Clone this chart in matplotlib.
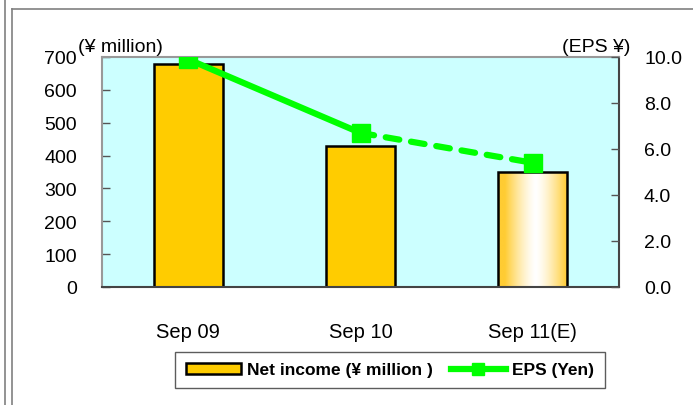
import numpy as np
import matplotlib
matplotlib.use("Agg")
import matplotlib.pyplot as plt
from matplotlib.lines import Line2D
from matplotlib.patches import Patch

plt.rcParams["font.family"] = ["Liberation Sans", "DejaVu Sans"]

periods = ["Sep 09", "Sep 10", "Sep 11(E)"]
net_income = [680, 430, 350]
eps = [9.9, 6.7, 5.4]
left_ticks = [0, 100, 200, 300, 400, 500, 600, 700]
right_ticks = [0.0, 2.0, 4.0, 6.0, 8.0, 10.0]

W, H = 693, 406
fig = plt.figure(figsize=(W / 100, H / 100), dpi=100)


def px(x0, y0, x1, y1):
    # pixel box (top-left origin) -> figure fraction rect
    return [x0 / W, 1 - y1 / H, (x1 - x0) / W, (y1 - y0) / H]


# outer frame lines
frame_kw = dict(color="#808080", linewidth=1.2, transform=fig.transFigure)
fig.add_artist(Line2D([5 / W, 5 / W], [0, 1], **frame_kw))
fig.add_artist(Line2D([12 / W, 12 / W], [0, 1 - 10 / H], **frame_kw))
fig.add_artist(Line2D([12 / W, 1], [1 - 10 / H, 1 - 10 / H], **frame_kw))

ax = fig.add_axes(px(102, 58, 619, 288))
ax.set_facecolor("#CCFFFF")
x = np.arange(len(periods))
bars = ax.bar(x, net_income, width=0.4, color="#FFCC00", edgecolor="black", linewidth=1.8, zorder=2)

# last bar is an estimate: gradient fill
last = bars[-1]
last.set_facecolor("none")
bx, by = last.get_x(), last.get_y()
bw, bh = last.get_width(), last.get_height()
t = np.linspace(0, 1, 200)
d = np.clip(np.abs(t - 0.55) / 0.45, 0, 1) ** 1.4
orange = np.array([1.0, 0.80, 0.2])
grad = (1 - d)[:, None] * np.array([1.0, 1.0, 1.0]) + d[:, None] * orange
img = ax.imshow(grad[None, :, :], extent=[bx, bx + bw, by, by + bh], aspect="auto", zorder=1.9)
img.set_clip_path(last)

ax.set_xlim(-0.5, len(periods) - 0.5)
ax.set_ylim(0, 700)
ax.set_yticks(left_ticks)
ax.set_xticks(x)
ax.set_xticklabels(periods, fontsize=14.5)
ax.tick_params(axis="x", length=0, pad=25)
ax.tick_params(axis="y", direction="in", length=6, width=1, colors="#555555", labelcolor="black",
               labelsize=14, pad=18)
for side in ["top", "left"]:
    ax.spines[side].set_color("#999999")
    ax.spines[side].set_linewidth(1.5)
for side in ["right", "bottom"]:
    ax.spines[side].set_color("#444444")
    ax.spines[side].set_linewidth(1.5)

ax2 = ax.twinx()
ax2.set_ylim(0, 10)
ax2.set_yticks(right_ticks)
ax2.set_yticklabels([f"{v:.1f}" for v in right_ticks])
ax2.tick_params(axis="y", direction="in", length=6, width=1, colors="#555555", labelcolor="black",
                labelsize=14, pad=18)
for s in ax2.spines.values():
    s.set_visible(False)

green = "#00FF00"
ax2.plot(x[:2], eps[:2], color=green, linewidth=4.5, solid_capstyle="round", zorder=3)
ax2.plot(x[1:], eps[1:], color=green, linewidth=4.5, linestyle=(0, (2.2, 1.9)),
         dash_capstyle="round", zorder=3)
ax2.plot(x, eps, linestyle="none", marker="s", markersize=13, color=green, zorder=4)

fig.text(78 / W, 1 - 52 / H, "(\u00a5 million)", fontsize=14, va="baseline", ha="left")
fig.text(630 / W, 1 - 52 / H, "(EPS \u00a5)", fontsize=14, va="baseline", ha="right")

handles = [
    Patch(facecolor="#FFCC00", edgecolor="black", linewidth=1.8),
    Line2D([], [], color=green, linewidth=4.5, marker="s", markersize=8),
]
labels = ["Net income (\u00a5 million )", "EPS (Yen)"]
leg = fig.legend(handles, labels, loc="center", bbox_to_anchor=(390 / W, 1 - 371 / H), ncol=2,
                 fancybox=False, frameon=True, edgecolor="#333333",
                 handlelength=3.2, handleheight=0.6, handletextpad=0.35, columnspacing=1.0,
                 borderpad=0.6,
                 prop={"family": ["Liberation Sans", "DejaVu Sans"], "weight": "bold", "size": 12.5})
leg.get_frame().set_linewidth(1.0)

fig.savefig("out.png", dpi=100)
